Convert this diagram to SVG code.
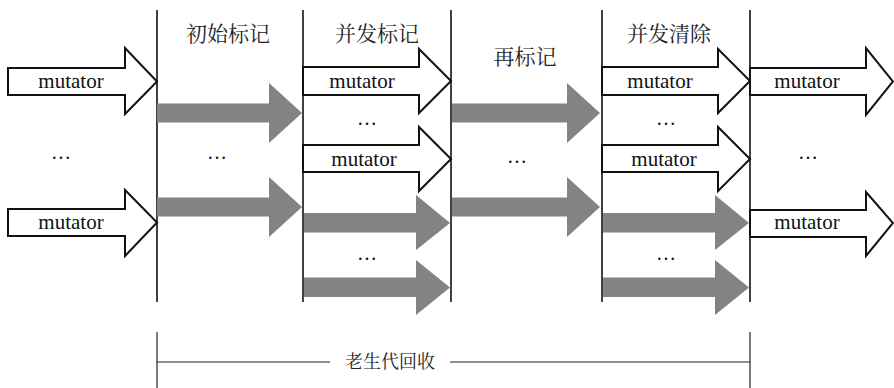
<svg xmlns="http://www.w3.org/2000/svg" width="894" height="388" viewBox="0 0 894 388">
<style>
.w{fill:#fff;stroke:#111;stroke-width:2;stroke-linejoin:miter}
.g{fill:#838383;stroke:none}
.ln{stroke:#111;stroke-width:1.6;fill:none}
.thin{stroke:#222;stroke-width:1.2;fill:none}
.lab{font-family:'Liberation Serif','Times New Roman',serif;font-size:21px;fill:#111;text-anchor:middle}
.dots{font-family:'Liberation Serif','Times New Roman',serif;font-size:20px;fill:#111;text-anchor:middle}
.cn{font-family:'Noto Serif CJK SC','Noto Sans CJK SC',serif;font-size:21px;fill:#222;text-anchor:middle}
.cn2{font-family:'Noto Serif CJK SC','Noto Sans CJK SC',serif;font-size:18px;fill:#222;text-anchor:middle}
</style>
<rect width="894" height="388" fill="#fff"/>
<g id="phases">
<line class="ln" x1="157" y1="10" x2="157" y2="302"/>
<line class="ln" x1="303" y1="10" x2="303" y2="302"/>
<line class="ln" x1="451" y1="10" x2="451" y2="302"/>
<line class="ln" x1="602" y1="10" x2="602" y2="302"/>
<line class="ln" x1="750" y1="10" x2="750" y2="302"/>
<text class="cn" x="228" y="41">初始标记</text>
<text class="cn" x="377" y="41">并发标记</text>
<text class="cn" x="525" y="64">再标记</text>
<text class="cn" x="669" y="41">并发清除</text>
</g>
<g id="connectors">
<polygon class="g" points="157,103.5 269,103.5 269,83 302,113 269,143 269,122.5 157,122.5"/>
<polygon class="g" points="157,197.5 269,197.5 269,177 302,207 269,237 269,216.5 157,216.5"/>
<polygon class="g" points="304,213 416,213 416,195 450,223 416,250 416,232.5 304,232.5"/>
<polygon class="g" points="304,277.5 416,277.5 416,260 450,287.5 416,315 416,297 304,297"/>
<polygon class="g" points="452,103.5 567,103.5 567,83 600,113 567,143 567,122.5 452,122.5"/>
<polygon class="g" points="452,197.5 567,197.5 567,177 600,207 567,237 567,216.5 452,216.5"/>
<polygon class="g" points="603,213 715,213 715,195 749,223 715,250 715,232.5 603,232.5"/>
<polygon class="g" points="603,277.5 715,277.5 715,260 749,287.5 715,315 715,297 603,297"/>
</g>
<g id="mutators-left">
<polygon class="w" points="8,68 125,68 125,48 157,81.5 125,114 125,95 8,95"/>
<text class="lab" x="71" y="88">mutator</text>
<text class="dots" x="61" y="159">…</text>
<polygon class="w" points="8,209 125,209 125,190 157,222.5 125,256 125,236 8,236"/>
<text class="lab" x="71" y="229">mutator</text>
</g>
<g id="col1"><text class="dots" x="217" y="159">…</text></g>
<g id="col2">
<polygon class="w" points="303,67 419,67 419,49 451,81 419,113 419,95 303,95"/>
<text class="lab" x="362" y="88">mutator</text>
<text class="dots" x="367" y="125">…</text>
<polygon class="w" points="303,145 419,145 419,127 451,159 419,191 419,172 303,172"/>
<text class="lab" x="364" y="166">mutator</text>
<text class="dots" x="367" y="260">…</text>
</g>
<g id="col3"><text class="dots" x="517" y="163">…</text></g>
<g id="col4">
<polygon class="w" points="602,67 718,67 718,49 750,81 718,113 718,95 602,95"/>
<text class="lab" x="660" y="88">mutator</text>
<text class="dots" x="666" y="125">…</text>
<polygon class="w" points="602,145 718,145 718,127 750,159 718,191 718,172 602,172"/>
<text class="lab" x="664" y="166">mutator</text>
<text class="dots" x="666" y="260">…</text>
</g>
<g id="col5">
<polygon class="w" points="750,68 866,68 866,48 893,81.5 866,115 866,95 750,95"/>
<text class="lab" x="807" y="88">mutator</text>
<text class="dots" x="808" y="159">…</text>
<polygon class="w" points="750,210 866,210 866,192 893,223 866,256 866,237 750,237"/>
<text class="lab" x="807" y="229">mutator</text>
</g>
<g id="old-gen">
<line class="thin" x1="157" y1="332" x2="157" y2="388"/>
<line class="thin" x1="750" y1="332" x2="750" y2="388"/>
<line class="thin" x1="157" y1="362" x2="330" y2="362"/>
<line class="thin" x1="450" y1="362" x2="750" y2="362"/>
<text class="cn2" x="390" y="368">老生代回收</text>
</g>
</svg>
